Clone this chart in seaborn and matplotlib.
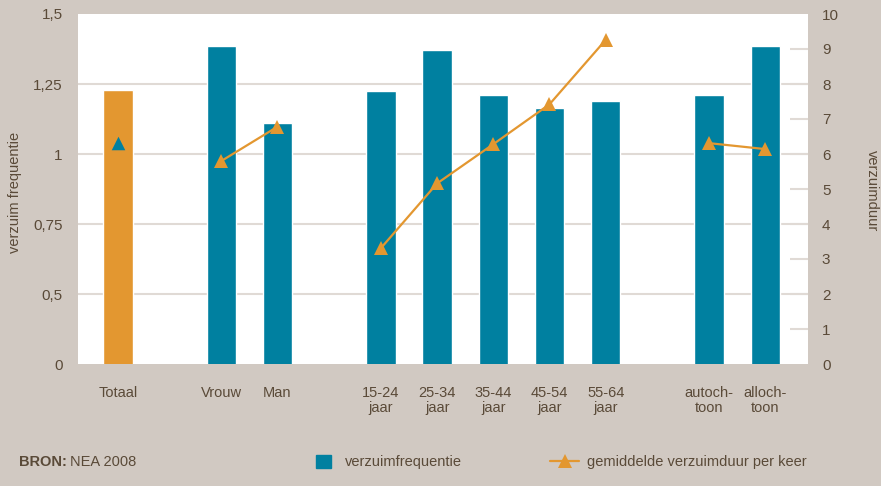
import matplotlib.pyplot as plt
import pandas as pd
import seaborn as sns
from matplotlib.lines import Line2D
from matplotlib.patches import Patch

# groepen categorieen (lege ruimte tussen de groepen)
groepen = [
    ["Totaal"],
    ["Vrouw", "Man"],
    ["15-24\njaar", "25-34\njaar", "35-44\njaar", "45-54\njaar", "55-64\njaar"],
    ["autoch-\ntoon", "alloch-\ntoon"],
]
verzuimfrequentie = [1.23, 1.385, 1.11, 1.225, 1.37, 1.21, 1.165, 1.19, 1.21, 1.385]
verzuimduur = [6.31, 5.8, 6.78, 3.31, 5.16, 6.28, 7.42, 9.26, 6.31, 6.14]
freq_ticks = [0.25, 0.5, 0.75, 1.0, 1.25, 1.5]
freq_labels = ["0", "0,5", "0,75", "1", "1,25", "1,5"]
duur_ticks = list(range(0, 11))

TEAL = "#0080a0"
ORANGE = "#e39730"
BG = "#d1c9c2"
GRID = "#e0dad5"
TXT = "#5a4a38"

# x-posities: 1 per balk, grotere stap tussen groepen
gap = 1.84
pos, labels, groep = [], [], []
start = 0
for gi, g in enumerate(groepen):
    for i, lab in enumerate(g):
        pos.append(start + i)
        labels.append(lab)
        groep.append(gi)
    start = pos[-1] + gap

df = pd.DataFrame({
    "pos": pos,
    "label": labels,
    "groep": groep,
    "freq": verzuimfrequentie,
    "duur": verzuimduur,
    "kleur": ["totaal" if g == 0 else "overig" for g in groep],
})

sns.set_style("white")
plt.rcParams["font.family"] = ["Liberation Sans", "DejaVu Sans"]
plt.rcParams["font.size"] = 10.5

fig = plt.figure(figsize=(8.81, 4.86), dpi=100, facecolor=BG)
ax = fig.add_axes([78 / 881, 1 - 364 / 486, 730 / 881, 350 / 486])
ax.set_facecolor("white")

sns.barplot(data=df, x="pos", y="freq", hue="kleur",
            palette={"totaal": ORANGE, "overig": TEAL},
            native_scale=True, dodge=False, width=0.52, errorbar=None,
            legend=False, saturation=1, ax=ax)

ax.set_xlim(-0.71, 12.28)
ax.set_ylim(0.25, 1.5)
ax.set_yticks(freq_ticks)
ax.set_yticklabels(freq_labels)
ax.set_xticks(df["pos"])
ax.set_xticklabels(df["label"], linespacing=1.1)
ax.set_axisbelow(True)
ax.yaxis.grid(True, color=GRID, linewidth=1.5)
gl = ax.get_ygridlines()
gl[0].set_visible(False)
gl[-1].set_visible(False)
ax.tick_params(axis="both", length=0, colors=TXT)
ax.tick_params(axis="y", pad=11, labelsize=11)
ax.tick_params(axis="x", pad=16)
ax.set_xlabel("")
ax.set_ylabel("")
for s in ax.spines.values():
    s.set_visible(False)

ax2 = ax.twinx()
for g in [1, 2, 3]:
    sns.lineplot(data=df[df["groep"] == g], x="pos", y="duur", color=ORANGE,
                 marker="^", markersize=10, markeredgewidth=0, linewidth=1.6,
                 ax=ax2)
sns.scatterplot(data=df[df["groep"] == 0], x="pos", y="duur", color=TEAL,
                marker="^", s=95, linewidth=0, ax=ax2)
ax2.set_ylim(0, 10)
ax2.set_yticks(duur_ticks)
ax2.tick_params(axis="y", direction="in", length=13, width=1.5, color=GRID,
                labelcolor=TXT, pad=10, labelsize=11)
ticks2 = ax2.yaxis.get_major_ticks()
for t in (ticks2[0], ticks2[-1]):
    t.tick1line.set_visible(False)
    t.tick2line.set_visible(False)
ax2.set_xlabel("")
ax2.set_ylabel("")
for s in ax2.spines.values():
    s.set_visible(False)

fig.text(15 / 881, 1 - 192 / 486, "verzuim frequentie", rotation=90,
         ha="center", va="center", color=TXT)
fig.text(872 / 881, 1 - 191 / 486, "verzuimduur", rotation=270,
         ha="center", va="center", color=TXT)

# legenda en bron
ly = 1 - 462 / 486
fig.text(19 / 881, ly, "BRON:", fontweight="bold", ha="left", va="center", color=TXT)
fig.text(70 / 881, ly, "NEA 2008", ha="left", va="center", color=TXT)
fig.legend(handles=[Patch(color=TEAL, label="verzuimfrequentie")],
           loc="center left", bbox_to_anchor=(316 / 881, ly), frameon=False,
           borderpad=0, borderaxespad=0, handlelength=1.05, handleheight=1.05,
           handletextpad=0.95, labelcolor=TXT)
fig.legend(handles=[Line2D([], [], color=ORANGE, marker="^", markersize=10,
                           markeredgewidth=0, lw=1.6,
                           label="gemiddelde verzuimduur per keer")],
           loc="center left", bbox_to_anchor=(550 / 881, ly), frameon=False,
           borderpad=0, borderaxespad=0, handlelength=2.0,
           handletextpad=0.55, labelcolor=TXT)

fig.savefig("out.png", dpi=100, facecolor=BG)
